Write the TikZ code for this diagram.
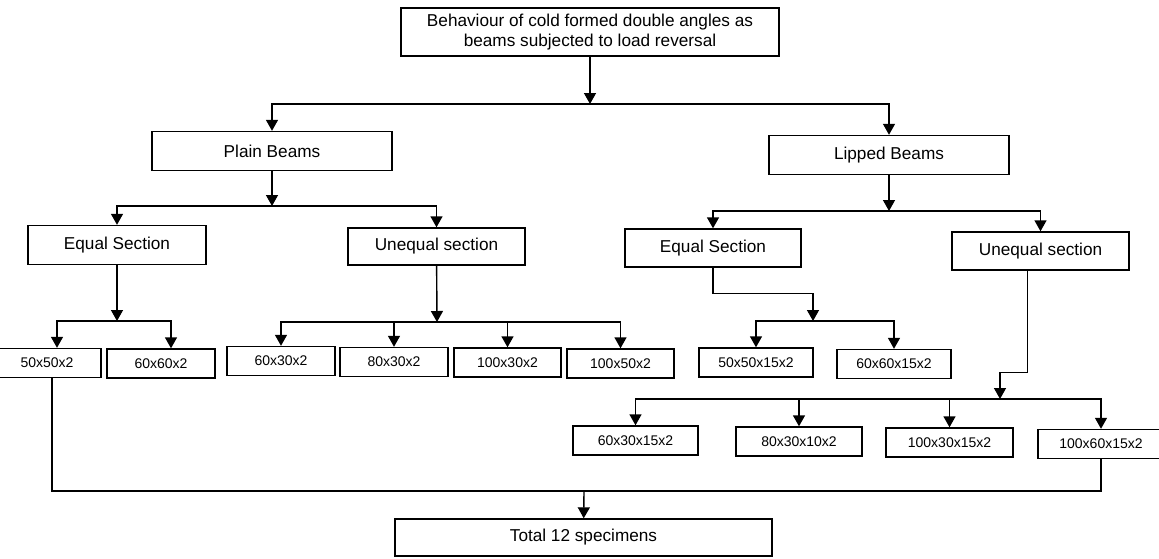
\documentclass[tikz,border=0pt]{standalone}
\usepackage{fontspec}
\setmainfont{Liberation Sans}
\usetikzlibrary{arrows.meta}
\begin{document}
\begin{tikzpicture}[x=1pt,y=-1pt,
  box/.style={draw,line width=1.4pt,inner sep=0pt,minimum height=39pt,font=\fontsize{17.2}{19.5}\selectfont},
  smallbox/.style={draw,line width=1.4pt,inner sep=0pt,minimum height=29pt,font=\fontsize{14}{16}\selectfont},
  link/.style={line width=1.4pt},
  arr/.style={line width=1.4pt,-{Triangle[width=12pt,length=11pt]}}]
\useasboundingbox (0,0) rectangle (1159,558);
\node[box,minimum width=378pt,minimum height=48pt,align=center] (top) at (590,32) {Behaviour of cold formed double angles as\\beams subjected to load reversal};
\node[box,minimum width=240pt] (plain) at (272,151) {Plain Beams};
\node[box,minimum width=240pt] (lipped) at (889,155) {Lipped Beams};
\node[box,minimum width=178pt] (eqL) at (117,245) {Equal Section};
\node[box,minimum width=177pt,minimum height=37pt] (uneqL) at (436.5,246.5) {Unequal section};
\node[box,minimum width=176pt,minimum height=38pt] (eqR) at (713,248) {Equal Section};
\node[box,minimum width=177pt,minimum height=38pt] (uneqR) at (1040.5,251) {Unequal section};
\node[smallbox,minimum width=108pt] (b1) at (47,363) {50x50x2};
\node[smallbox,minimum width=108pt] (b2) at (161,363.5) {60x60x2};
\node[smallbox,minimum width=108pt] (b3) at (281,361) {60x30x2};
\node[smallbox,minimum width=108pt] (b4) at (394,362) {80x30x2};
\node[smallbox,minimum width=107pt] (b5) at (507.5,362.5) {100x30x2};
\node[smallbox,minimum width=107pt] (b6) at (620.5,363.5) {100x50x2};
\node[smallbox,minimum width=114pt] (b7) at (756,362.5) {50x50x15x2};
\node[smallbox,minimum width=114pt] (b8) at (894,364) {60x60x15x2};
\node[smallbox,minimum width=125pt] (c1) at (635.5,440.5) {60x30x15x2};
\node[smallbox,minimum width=126pt] (c2) at (799,441.5) {80x30x10x2};
\node[smallbox,minimum width=127pt] (c3) at (949.5,442.5) {100x30x15x2};
\node[smallbox,minimum width=126pt] (c4) at (1101,444) {100x60x15x2};
\node[box,minimum width=377pt,minimum height=37pt] (total) at (583.5,537.5) {Total 12 specimens};
\coordinate (j0) at (590,104);
\coordinate (j1) at (272,206);
\coordinate (j2) at (889,211);
\coordinate (j3) at (117,321);
\coordinate (j4) at (437,322);
\coordinate (j5) at (813,321);
\coordinate (j6) at (1000,399);
\coordinate (j7) at (584,491);
\draw[arr] (top) -- (j0);
\draw[arr] (j0) -| (plain);
\draw[arr] (j0) -| (lipped);
\draw[arr] (plain) -- (j1);
\draw[arr] (j1) -| (eqL);
\draw[arr] (j1) -| (uneqL);
\draw[arr] (lipped) -- (j2);
\draw[arr] (j2) -| (eqR);
\draw[arr] (j2) -| (uneqR);
\draw[arr] (eqL) -- (j3);
\draw[arr] (j3) -| ([xshift=10pt]b1.north);
\draw[arr] (j3) -| ([xshift=10pt]b2.north);
\draw[arr] (uneqL) -- (j4);
\draw[arr] (j4) -| (b3);
\draw[arr] (j4) -| (b4);
\draw[arr] (j4) -| (b5);
\draw[arr] (j4) -| (b6);
\draw[arr] (eqR.south) -- ++(0,26) -| (j5);
\draw[arr] (j5) -| (b7);
\draw[arr] (j5) -| (b8);
\draw[arr] ([xshift=-13pt]uneqR.south) -- ++(0,102) -| (j6);
\draw[arr] (j6) -| (c1);
\draw[arr] (j6) -| (c2);
\draw[arr] (j6) -| (c3);
\draw[arr] (j6) -| (c4);
\draw[link] ([xshift=5pt]b1.south) |- (j7) -| (c4.south);
\draw[arr] (j7) -- (total);
\end{tikzpicture}
\end{document}
